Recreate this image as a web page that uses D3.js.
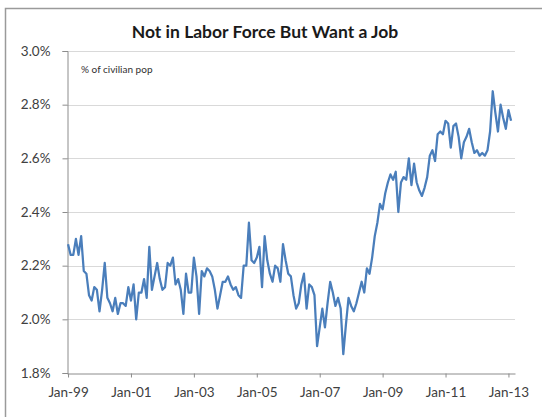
<!DOCTYPE html>
<html>
<head>
<meta charset="utf-8">
<script src="https://cdnjs.cloudflare.com/ajax/libs/d3/7.8.5/d3.min.js"></script>
<style>
  html, body { margin: 0; padding: 0; background: #fff; }
  svg { display: block; font-family: Lato, "Open Sans", sans-serif; }
</style>
</head>
<body>
<svg id="chart" width="542" height="417"></svg>
<script>
// Monthly share (%) of the civilian population not in the labor force but wanting a job,
// January 1999 through February 2013 (one value per month).
const share = [
  2.28, 2.24, 2.24, 2.30, 2.24, 2.31, 2.18, 2.17, 2.09, 2.07, 2.12, 2.11,
  2.03, 2.11, 2.21, 2.08, 2.06, 2.03, 2.08, 2.02, 2.06, 2.06, 2.05, 2.12,
  2.07, 2.13, 2.00, 2.10, 2.10, 2.15, 2.08, 2.27, 2.11, 2.16, 2.21, 2.15,
  2.11, 2.12, 2.21, 2.20, 2.23, 2.13, 2.15, 2.11, 2.02, 2.17, 2.10,
  2.10, 2.23, 2.16, 2.02, 2.18, 2.16, 2.19, 2.18, 2.16, 2.11, 2.04,
  2.09, 2.14, 2.14, 2.16, 2.13, 2.11, 2.12, 2.09, 2.08, 2.20, 2.20, 2.36,
  2.22, 2.21, 2.23, 2.27, 2.12, 2.31, 2.22, 2.17, 2.14, 2.20, 2.19,
  2.14, 2.28, 2.22, 2.17, 2.16, 2.09, 2.04, 2.06, 2.13, 2.17, 2.04, 2.13,
  2.12, 2.09, 1.90, 1.97, 2.04, 1.97, 2.06, 2.14, 2.10, 2.05, 2.08, 2.04,
  1.87, 1.98, 2.08, 2.05, 2.03, 2.06, 2.10, 2.14, 2.10, 2.19,
  2.17, 2.23, 2.31, 2.36, 2.43, 2.41, 2.47, 2.51, 2.54, 2.52, 2.55,
  2.40, 2.51, 2.53, 2.52, 2.60, 2.50, 2.58, 2.51, 2.48, 2.46, 2.49,
  2.53, 2.61, 2.63, 2.59, 2.69, 2.70, 2.69, 2.74, 2.73, 2.64, 2.72, 2.73,
  2.68, 2.60, 2.66, 2.68, 2.71, 2.66, 2.62, 2.63, 2.61, 2.62, 2.61, 2.63,
  2.70, 2.85, 2.77, 2.70, 2.80, 2.75, 2.71, 2.78, 2.74
];

// Category axis labels, one every 24 months
const xTickMonths = [0, 24, 48, 72, 96, 120, 144, 168];
const xTickLabels = ["Jan-99", "Jan-01", "Jan-03", "Jan-05", "Jan-07", "Jan-09", "Jan-11", "Jan-13"];

// Value axis ticks (%)
const yTicks = [1.8, 2.0, 2.2, 2.4, 2.6, 2.8, 3.0];

const title = "Not in Labor Force But Want a Job";
const unitNote = "% of civilian pop";

const svg = d3.select("#chart");
const plot = { left: 67, right: 515, top: 51, bottom: 373 };

// Outer chart frame
svg.append("rect")
  .attr("x", 5.5).attr("y", 8.5)
  .attr("width", 540).attr("height", 412)
  .attr("fill", "#fff")
  .attr("stroke", "#9a9a9a")
  .attr("stroke-width", 1.5);

const x = d3.scaleLinear()
  .domain([-0.4, 170.5])
  .range([plot.left, plot.right]);

const y = d3.scaleLinear()
  .domain([1.8, 3.0])
  .range([plot.bottom, plot.top]);

// Horizontal gridlines
svg.append("g")
  .selectAll("line")
  .data(yTicks.filter(v => v > 1.8))
  .join("line")
  .attr("x1", plot.left).attr("x2", plot.right)
  .attr("y1", d => Math.round(y(d)) + 0.5)
  .attr("y2", d => Math.round(y(d)) + 0.5)
  .attr("stroke", "#d9d9d9")
  .attr("stroke-width", 1);

// Value axis
const yAxis = svg.append("g")
  .attr("transform", `translate(${plot.left + 0.5},0)`)
  .call(d3.axisLeft(y)
    .tickValues(yTicks)
    .tickFormat(d => d.toFixed(1) + "%")
    .tickSize(5)
    .tickPadding(12));
yAxis.select(".domain").attr("stroke", "#8c8c8c");
yAxis.selectAll(".tick line").attr("stroke", "#8c8c8c");
yAxis.selectAll(".tick text")
  .attr("fill", "#404040")
  .style("font-size", "13.5px")
  .style("font-family", "Lato, 'Open Sans', sans-serif");

// Category axis
const xAxis = svg.append("g")
  .attr("transform", `translate(0,${Math.round(y(1.8)) + 0.5})`)
  .call(d3.axisBottom(x)
    .tickValues(xTickMonths)
    .tickFormat((d, i) => xTickLabels[i])
    .tickSizeInner(4)
    .tickSizeOuter(0)
    .tickPadding(10));
xAxis.select(".domain").attr("stroke", "#8c8c8c");
xAxis.selectAll(".tick line").attr("stroke", "#8c8c8c");
xAxis.selectAll(".tick text")
  .attr("fill", "#404040")
  .style("font-size", "13.5px")
  .style("font-family", "Lato, 'Open Sans', sans-serif");

// Series line
const line = d3.line()
  .x((d, i) => x(i))
  .y(d => y(d));

svg.append("path")
  .datum(share)
  .attr("d", line)
  .attr("fill", "none")
  .attr("stroke", "#4a7ebb")
  .attr("stroke-width", 2.25)
  .attr("stroke-linejoin", "round");

// Title and unit note
svg.append("text")
  .attr("x", 265).attr("y", 38)
  .attr("text-anchor", "middle")
  .attr("fill", "#1a1a1a")
  .style("font-size", "17.5px")
  .style("font-weight", "bold")
  .text(title);

svg.append("text")
  .attr("x", 81).attr("y", 73)
  .attr("fill", "#303030")
  .style("font-size", "10px")
  .text(unitNote);
</script>
</body>
</html>
